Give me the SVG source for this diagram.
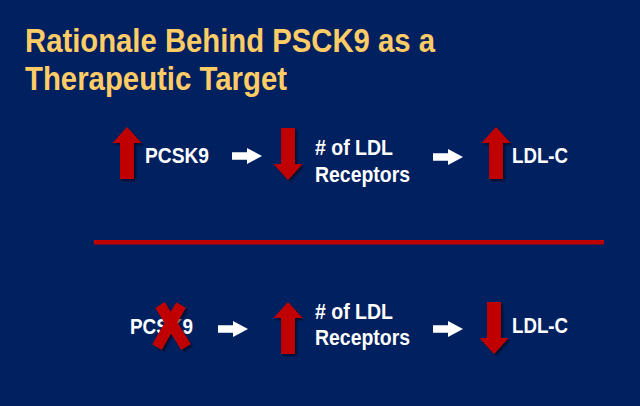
<svg xmlns="http://www.w3.org/2000/svg" width="640" height="406" viewBox="0 0 640 406">
<style>
.title{font-family:"Liberation Sans",Arial,sans-serif;font-weight:bold;font-size:33.5px;fill:#FFCC66}
.lbl{font-family:"Liberation Sans",Arial,sans-serif;font-weight:bold;font-size:22px;fill:#FFFFFF}
.red{fill:#C00000}
.wh{fill:#FFFFFF}
</style>
<defs>
<filter id="sh" x="-30%" y="-30%" width="160%" height="160%">
<feDropShadow dx="2" dy="2" stdDeviation="1.2" flood-color="#000000" flood-opacity="0.55"/>
</filter>
<path id="up" d="M0,0 L14.5,16 L7,16 L7,52 L-7,52 L-7,16 L-14.5,16 Z"/>
<path id="down" d="M0,0 L14.5,-16 L7,-16 L7,-52 L-7,-52 L-7,-16 L-14.5,-16 Z"/>
<path id="wa" d="M0,-3.7 L15,-3.7 L15,-8 L30,0 L15,8 L15,3.7 L0,3.7 Z"/>
</defs>
<rect width="640" height="406" fill="#002060"/>
<g id="title">
<text class="title" x="25" y="52" textLength="410" lengthAdjust="spacingAndGlyphs">Rationale Behind PSCK9 as a</text>
<text class="title" x="25" y="90" textLength="262" lengthAdjust="spacingAndGlyphs">Therapeutic Target</text>
</g>
<g id="row1">
<g id="up1"><use href="#up" class="red" filter="url(#sh)" x="127" y="127"/></g>
<g id="pcsk9-1"><text class="lbl" x="145" y="163" textLength="64" lengthAdjust="spacingAndGlyphs">PCSK9</text></g>
<g id="down1"><use href="#down" class="red" filter="url(#sh)" x="288" y="180"/></g>
<g id="ldlr1"><text class="lbl" x="315" y="155" textLength="78" lengthAdjust="spacingAndGlyphs"># of LDL</text>
<text class="lbl" x="315" y="182" textLength="95" lengthAdjust="spacingAndGlyphs">Receptors</text></g>
<g id="up2"><use href="#up" class="red" filter="url(#sh)" x="496" y="127"/></g>
<g id="ldlc1"><text class="lbl" x="512" y="163" textLength="56" lengthAdjust="spacingAndGlyphs">LDL-C</text></g>
</g>
<g id="divider"><rect x="94" y="240" width="510" height="4.5" class="red"/></g>
<g id="row2">
<g id="pcsk9-2"><text class="lbl" x="130" y="334" textLength="63" lengthAdjust="spacingAndGlyphs">PCSK9</text></g>
<g id="xmark" filter="url(#sh)"><path d="M160,305 L186,347 M181,305 L157,347" stroke="#C00000" stroke-width="11" fill="none" stroke-linecap="butt"/></g>
<g id="up3"><use href="#up" class="red" filter="url(#sh)" x="288" y="302"/></g>
<g id="ldlr2"><text class="lbl" x="315" y="319" textLength="78" lengthAdjust="spacingAndGlyphs"># of LDL</text>
<text class="lbl" x="315" y="345" textLength="95" lengthAdjust="spacingAndGlyphs">Receptors</text></g>
<g id="down4"><use href="#down" class="red" filter="url(#sh)" x="494" y="354"/></g>
<g id="ldlc2"><text class="lbl" x="512" y="333" textLength="56" lengthAdjust="spacingAndGlyphs">LDL-C</text></g>
</g>
<g id="connectors">
<use href="#wa" class="wh" x="232" y="156"/>
<use href="#wa" class="wh" x="433" y="157"/>
<use href="#wa" class="wh" x="218" y="329"/>
<use href="#wa" class="wh" x="433" y="329"/>
</g>
</svg>
